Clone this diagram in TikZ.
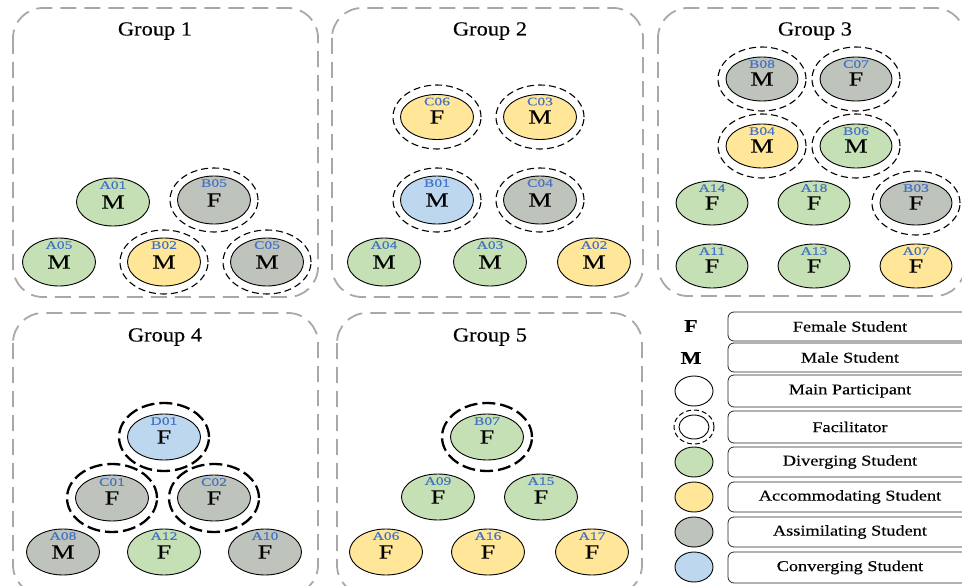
\documentclass[tikz,border=0pt]{standalone}
\usepackage{fontspec}
\setmainfont{Liberation Serif}
\newfontfamily\titlefont[FakeStretch=1.12,FakeBold=0.3]{Liberation Serif}
\newfontfamily\legfont[FakeStretch=1.22,FakeBold=0.35]{Liberation Serif}
\newfontfamily\stufont[FakeStretch=1.3,FakeBold=0.35]{Liberation Serif}
\newfontfamily\idfont[FakeStretch=1.35,FakeBold=0.3]{Liberation Serif}
\usetikzlibrary{shapes.geometric}

\definecolor{divg}{HTML}{C5E0B4}
\definecolor{acco}{HTML}{FFE699}
\definecolor{assi}{HTML}{BEC3BC}
\definecolor{conv}{HTML}{BDD7EE}
\definecolor{idblue}{HTML}{4472C4}
\definecolor{grpgray}{HTML}{A8A8A8}

\tikzset{
  grpbox/.style={draw=grpgray, line width=1.8pt, rounded corners=30pt,
                 dash pattern=on 16pt off 8pt},
  grptitle/.style={font=\titlefont\fontsize{20}{22}\selectfont},
  stu/.style={ellipse, draw=black, line width=0.9pt, minimum width=73pt,
              minimum height=48pt, inner sep=0pt,
              font=\stufont\fontsize{20}{21}\selectfont},
  G/.style={stu, fill=divg},
  Y/.style={stu, fill=acco},
  S/.style={stu, fill=assi},
  B/.style={stu, fill=conv},
  idlab/.style={text=idblue, font=\idfont\fontsize{11.5}{12}\selectfont,
                inner sep=0pt},
  ring/.style={ellipse, draw=black, line width=1.1pt, minimum width=88pt,
               minimum height=64pt, dash pattern=on 7pt off 4pt},
  ringbold/.style={ellipse, draw=black, line width=2.3pt, minimum width=90pt,
               minimum height=68pt, dash pattern=on 13pt off 5pt},
  legbox/.style={draw=black!85, line width=0.8pt, rounded corners=6pt},
  legtext/.style={font=\legfont\fontsize{15}{16}\selectfont},
  legdot/.style={ellipse, draw=black, line width=0.9pt, minimum width=38pt,
                 minimum height=30pt, inner sep=0pt},
  legletter/.style={font=\legfont\fontsize{18}{18}\selectfont\bfseries}
}

% one student: name, x, y, style, letter
\newcommand\pers[5]{%
  \node[#4] (#1) at (#2,#3) {\raisebox{-3pt}{#5}};
  \node[idlab] (#1-id) at ([yshift=-7.5pt]#1.north) {#1};
}
% facilitator ring round a student
\newcommand\facil[2][ring]{\node[#1] (#2-ring) at (#2) {};}

\begin{document}
\begin{tikzpicture}[x=1pt, y=-1pt]
\useasboundingbox (0,0) rectangle (962,586);

% group frames
\draw[grpbox] (13,8) rectangle (318,297);
\draw[grpbox] (332,8) rectangle (643,297);
\draw[grpbox] (658,8) rectangle (965,296);
\draw[grpbox] (13,313) rectangle (318,595);
\draw[grpbox] (337,313) rectangle (642,595);

\node[grptitle] (t1) at (155,31) {Group 1};
\node[grptitle] (t2) at (490,31) {Group 2};
\node[grptitle] (t3) at (815,31) {Group 3};
\node[grptitle] (t4) at (165,337) {Group 4};
\node[grptitle] (t5) at (490,337) {Group 5};

% Group 1
\pers{A01}{113}{202}{G}{M}
\pers{B05}{214}{200}{S}{F}  \facil{B05}
\pers{A05}{59}{262}{G}{M}
\pers{B02}{164}{262}{Y}{M}  \facil{B02}
\pers{C05}{267}{262}{S}{M}  \facil{C05}

% Group 2
\pers{C06}{437}{117}{Y,minimum height=45pt}{F}  \facil{C06}
\pers{C03}{540}{117}{Y,minimum height=45pt}{M}  \facil{C03}
\pers{B01}{437}{200}{B}{M}  \facil{B01}
\pers{C04}{540}{200}{S}{M}  \facil{C04}
\pers{A04}{384}{262}{G}{M}
\pers{A03}{490}{262}{G}{M}
\pers{A02}{594}{262}{Y}{M}

% Group 3
\tikzset{stu/.append style={minimum height=44pt, minimum width=72pt}}
\pers{B08}{762}{79}{S}{M}   \facil{B08}
\pers{C07}{856}{79}{S}{F}   \facil{C07}
\pers{B04}{762}{146}{Y}{M}  \facil{B04}
\pers{B06}{856}{146}{G}{M}  \facil{B06}
\pers{A14}{712}{203}{G}{F}
\pers{A18}{814}{203}{G}{F}
\pers{B03}{916}{203}{S}{F}  \facil{B03}
\pers{A11}{712}{266}{G}{F}
\pers{A13}{814}{266}{G}{F}
\pers{A07}{916}{266}{Y}{F}
\tikzset{stu/.append style={minimum height=46pt, minimum width=73pt}}

% Group 4
\pers{D01}{164}{437}{B}{F}  \facil[ringbold]{D01}
\pers{C01}{112}{498}{S}{F}  \facil[ringbold]{C01}
\pers{C02}{214}{498}{S}{F}  \facil[ringbold]{C02}
\pers{A08}{63}{552}{S}{M}
\pers{A12}{164}{552}{G}{F}
\pers{A10}{265}{552}{S}{F}

% Group 5
\pers{B07}{487}{437}{G}{F}  \facil[ringbold]{B07}
\pers{A09}{438}{497}{G}{F}
\pers{A15}{541}{497}{G}{F}
\pers{A06}{386}{552}{Y}{F}
\pers{A16}{488}{552}{Y}{F}
\pers{A17}{592}{552}{Y}{F}

% legend
\node[legletter] (kF) at (691,326) {F};
\node[legletter] (kM) at (691,358) {M};
\node[legdot] (kMain) at (694,391) {};
\node[legdot, minimum width=30pt, minimum height=24pt] (kFac) at (694,427) {};
\node[ellipse, draw=black, line width=1pt, minimum width=40pt, minimum height=34pt,
      dash pattern=on 5pt off 3pt] (kFacR) at (694,427) {};
\node[legdot, fill=divg] (kDiv) at (694,462) {};
\node[legdot, fill=acco] (kAcc) at (694,497) {};
\node[legdot, fill=assi] (kAss) at (694,532) {};
\node[legdot, fill=conv] (kCon) at (694,567) {};

\foreach \n/\ya/\yb/\t in {bF/312/341/Female Student,
                           bM/343/372/Male Student,
                           bMain/375/407/Main Participant,
                           bFac/411/443/Facilitator,
                           bDiv/447/477/Diverging Student,
                           bAcc/482/512/Accommodating Student,
                           bAss/517/547/Assimilating Student,
                           bCon/552/583/Converging Student}{
  \draw[legbox] (728,\ya) rectangle (975,\yb);
  \node[legtext] (\n) at (850,{(\ya+\yb)/2}) {\t};
}
\end{tikzpicture}
\end{document}
